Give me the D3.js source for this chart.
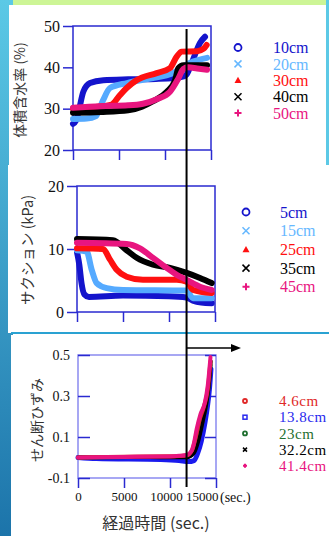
<!DOCTYPE html>
<html>
<head>
<meta charset="utf-8">
<script src="https://cdn.jsdelivr.net/npm/d3@7"></script>
<style>
  body { margin: 0; background: #fff; }
  svg { display: block; }
</style>
</head>
<body>
<svg id="fig" width="329" height="536"></svg>
<script>
// shared time axis (sec.)
const timeTicks = [0, 5000, 10000, 15000];
const failTime = 11800;

// panel 1: volumetric water content (%)
const vwcLabels = ['10cm', '20cm', '30cm', '40cm', '50cm'];
const vwcTicks = [20, 30, 40, 50];
const vwc10 = [[0,26.3],[300,27],[580,29],[1120,34.1],[1850,36.2],[3300,36.9],[6000,37.1],[9000,37.2],[11000,37.4],[12000,37.8],[12360,38.3],[12900,41],[13800,45.9],[14350,47.4]];
const vwc20 = [[0,27.5],[1500,27.6],[2500,28.2],[3260,32],[4020,35],[5870,36.2],[8370,37.3],[10870,38.6],[11960,40.2],[13040,41.4],[14570,42.3]];
const vwc30 = [[0,30],[2500,30.4],[4200,31],[5000,33],[5830,35],[6920,36.9],[9100,38.6],[10540,39.8],[11270,42.6],[11810,43.8],[13500,43.9],[14200,44.5],[14530,45.4]];
const vwc40 = [[0,29],[3000,29.2],[6000,29.6],[7500,30.5],[8700,31.8],[10200,34.1],[11100,36.9],[11450,39.8],[12000,40.5],[14570,40.5]];
const vwc50 = [[0,30.2],[3000,30.6],[6000,30.8],[7600,31.2],[9100,32.3],[10540,34.1],[11450,37.3],[12000,39.6],[12500,40],[13500,39.7],[14570,39.4]];

// panel 2: suction (kPa)
const sucLabels = ['5cm', '15cm', '25cm', '35cm', '45cm'];
const sucTicks = [0, 10, 20];
const suc5 = [[0,9.5],[250,7.5],[500,4.5],[800,2.8],[1300,2.4],[5000,2.6],[10000,2.5],[11900,2.3],[12600,1.8],[13500,1.5],[14640,1.4]];
const suc15 = [[0,9.8],[1050,9.6],[1600,6.7],[2140,4.6],[3230,3.8],[5000,3.5],[11920,3.4],[12610,2.2],[14640,2.2]];
const suc25 = [[0,10.1],[2830,10],[3590,8.3],[4320,6.7],[5400,5.6],[7170,5.1],[10840,5.1],[11920,4.8],[12610,3.5],[14640,3]];
const suc35 = [[0,11.6],[3910,11.4],[5400,9.8],[6490,8.6],[8260,7.5],[10110,7],[11920,6.2],[13370,5.4],[14640,4.6]];
const suc45 = [[0,11],[5400,10.8],[6850,10.1],[8260,8.6],[9750,7],[10840,5.9],[11920,5.1],[13370,4],[14640,3.5]];

// panel 3: shear strain
const strLabels = ['4.6cm', '13.8cm', '23cm', '32.2cm', '41.4cm'];
const strTicks = [-0.1, 0.1, 0.3, 0.5];
const str46 = [[0,0],[5000,0.004],[10000,0.006],[11800,0.01],[12400,0.035],[12800,0.1],[13200,0.18],[13700,0.25],[14100,0.33],[14400,0.47]];
const str138 = [[0,0],[2000,-0.005],[9000,-0.01],[11000,-0.015],[12000,-0.02],[12600,-0.015],[13000,0.02],[13400,0.08],[13800,0.17],[14100,0.26],[14300,0.34],[14450,0.43]];
const str23 = [[0,0],[6000,0.002],[11800,0.002],[12500,0.02],[13000,0.08],[13500,0.17],[13900,0.25],[14200,0.35],[14400,0.45]];
const str322 = [[0,0],[6000,0.001],[11800,0.0],[12600,0.02],[13100,0.08],[13600,0.18],[14000,0.27],[14300,0.38],[14450,0.47]];
const str414 = [[0,0],[5000,0.003],[10000,0.005],[11000,0.008],[11800,0.012],[12300,0.03],[12600,0.07],[12900,0.14],[13300,0.21],[13800,0.27],[14100,0.35],[14400,0.49]];

const svg = d3.select('#fig');
const serif = '"Liberation Serif", "Times New Roman", serif';
const jp = '"Noto Sans CJK JP", sans-serif';

// slide background pieces
const grad = svg.append('defs').append('linearGradient')
  .attr('id', 'side').attr('x1', 0).attr('y1', 0).attr('x2', 0).attr('y2', 1);
grad.append('stop').attr('offset', '0%').attr('stop-color', '#5cc9e6');
grad.append('stop').attr('offset', '100%').attr('stop-color', '#1c74aa');
svg.append('rect').attr('x', 0).attr('y', 0).attr('width', 13).attr('height', 536).attr('fill', 'url(#side)');
svg.append('rect').attr('x', 9).attr('y', 5).attr('width', 317).attr('height', 160).attr('fill', '#fff');
svg.append('rect').attr('x', 8).attr('y', 165).attr('width', 321).attr('height', 168).attr('fill', '#fff');
svg.append('rect').attr('x', 11).attr('y', 335).attr('width', 318).attr('height', 201).attr('fill', '#fff');
svg.append('rect').attr('x', 13).attr('y', 0).attr('width', 316).attr('height', 5).attr('fill', '#cdf596');
svg.append('rect').attr('x', 326).attr('y', 0).attr('width', 3).attr('height', 165).attr('fill', '#5cc9e6');
svg.append('rect').attr('x', 11).attr('y', 332).attr('width', 318).attr('height', 2).attr('fill', '#2aa2d2');

function marker(g, kind, cx, cy, s, color) {
  if (kind === 'circle') {
    g.append('circle').attr('cx', cx).attr('cy', cy).attr('r', s)
      .attr('fill', 'none').attr('stroke', color).attr('stroke-width', 1.8);
  } else if (kind === 'square') {
    g.append('rect').attr('x', cx - s).attr('y', cy - s).attr('width', 2 * s).attr('height', 2 * s)
      .attr('fill', 'none').attr('stroke', color).attr('stroke-width', 1.5);
  } else if (kind === 'triangle') {
    g.append('path').attr('d', `M${cx},${cy - s}L${cx + s},${cy + s * 0.8}L${cx - s},${cy + s * 0.8}Z`)
      .attr('fill', color);
  } else if (kind === 'times') {
    g.append('path').attr('d', `M${cx - s},${cy - s}L${cx + s},${cy + s}M${cx - s},${cy + s}L${cx + s},${cy - s}`)
      .attr('stroke', color).attr('stroke-width', 1.5);
  } else if (kind === 'plus') {
    g.append('path').attr('d', `M${cx - s},${cy}L${cx + s},${cy}M${cx},${cy - s}L${cx},${cy + s}`)
      .attr('stroke', color).attr('stroke-width', 2);
  }
}

function drawPanel(p) {
  const x = d3.scaleLinear().domain([0, 15000]).range([p.left, p.right]);
  const y = d3.scaleLinear().domain(p.yDomain).range([p.bottom, p.top]);
  const g = svg.append('g');

  // frame
  g.append('rect').attr('x', p.left).attr('y', p.top)
    .attr('width', p.right - p.left).attr('height', p.bottom - p.top)
    .attr('fill', 'none').attr('stroke', p.frameColor).attr('stroke-width', 1.5);

  const ya = g.append('g').attr('transform', `translate(${p.left},0)`)
    .call(d3.axisLeft(y).tickValues(p.yTicks).tickSize(p.yTickSize).tickSizeOuter(0)
      .tickPadding(p.yPad).tickFormat(p.yFormat));
  ya.select('.domain').remove();
  ya.selectAll('line').attr('stroke', p.tickColor).attr('stroke-width', 1.5);
  ya.selectAll('text').attr('font-family', serif).attr('font-size', p.tickFont).attr('fill', '#111');

  if (p.rightTicks) {
    const ra = g.append('g').attr('transform', `translate(${p.right},0)`)
      .call(d3.axisRight(y).tickValues(p.yTicks).tickSize(-p.rightTicks).tickFormat(''));
    ra.select('.domain').remove();
    ra.selectAll('line').attr('stroke', p.tickColor).attr('stroke-width', 1.5);
  }

  const xa = g.append('g').attr('transform', `translate(0,${p.bottom})`)
    .call(d3.axisBottom(x).tickValues(timeTicks).tickSize(10).tickSizeOuter(0).tickPadding(4)
      .tickFormat(p.showX ? d3.format('d') : ''));
  xa.select('.domain').remove();
  xa.selectAll('line').attr('stroke', p.tickColor).attr('stroke-width', 1.5);
  xa.selectAll('text').attr('font-family', serif).attr('font-size', 13).attr('fill', '#111');
  if (p.showX) {
    xa.selectAll('.tick').filter(d => d === 15000).select('text').attr('text-anchor', 'end').attr('dx', 2);
    xa.selectAll('.tick').filter(d => d === 10000).select('text').attr('dx', -4);
  }

  // curves
  const line = d3.line().x(d => x(d[0])).y(d => y(d[1])).curve(d3.curveMonotoneX);
  p.series.forEach(s => {
    g.append('path').datum(s.data).attr('d', line)
      .attr('fill', 'none').attr('stroke', s.color).attr('stroke-width', s.width)
      .attr('stroke-linecap', 'round').attr('stroke-linejoin', 'round');
  });

  // legend
  p.legend.forEach((s, i) => {
    const cy = p.legY + i * p.legDy;
    marker(g, s.kind, p.legMx, cy, p.legSize, s.color);
    g.append('text').attr('x', p.legTx).attr('y', cy).attr('dy', '0.35em')
      .attr('font-family', serif).attr('font-size', p.legFont)
      .attr('letter-spacing', p.legSpacing || 0)
      .attr('fill', s.textColor || s.color).text(s.label);
  });

  // rotated y title
  g.append('text').attr('transform', `translate(${p.titleX},${p.titleY}) rotate(-90)`)
    .attr('text-anchor', 'middle').attr('dy', '0.35em')
    .attr('font-family', jp).attr('font-size', p.titleFont).attr('fill', '#333')
    .text(p.title);
  return x;
}

const cBlue = '#1414cc', cLight = '#55aaff', cRed = '#ff1010', cBlack = '#000', cPink = '#e8157f';

drawPanel({
  left: 73, right: 211, top: 26, bottom: 150,
  yDomain: [20, 50], yTicks: vwcTicks, yTickSize: 10, yPad: 3, yFormat: d3.format('d'),
  tickFont: 16, frameColor: '#2a2ad0', tickColor: '#2a2ad0', showX: false,
  series: [
    { data: vwc10, color: cBlue, width: 6 },
    { data: vwc20, color: cLight, width: 6 },
    { data: vwc30, color: cRed, width: 6 },
    { data: vwc40, color: cBlack, width: 6 },
    { data: vwc50, color: cPink, width: 6 }
  ],
  legend: [
    { label: vwcLabels[0], kind: 'circle', color: cBlue },
    { label: vwcLabels[1], kind: 'times', color: '#66b8ff' },
    { label: vwcLabels[2], kind: 'triangle', color: cRed },
    { label: vwcLabels[3], kind: 'times', color: cBlack },
    { label: vwcLabels[4], kind: 'plus', color: cPink }
  ],
  legY: 47.5, legDy: 16.4, legMx: 238, legTx: 273, legSize: 3.5, legFont: 16,
  title: '体積含水率 (%)', titleX: 20, titleY: 90, titleFont: 14
});

drawPanel({
  left: 77, right: 215, top: 186, bottom: 312,
  yDomain: [0, 20], yTicks: sucTicks, yTickSize: 10, yPad: 3, yFormat: d3.format('d'),
  tickFont: 16, frameColor: '#2a2ad0', tickColor: '#2a2ad0', showX: false,
  series: [
    { data: suc5, color: cBlue, width: 6 },
    { data: suc15, color: cLight, width: 6 },
    { data: suc25, color: cRed, width: 6 },
    { data: suc35, color: cBlack, width: 6 },
    { data: suc45, color: cPink, width: 6 }
  ],
  legend: [
    { label: sucLabels[0], kind: 'circle', color: cBlue },
    { label: sucLabels[1], kind: 'times', color: '#66b8ff' },
    { label: sucLabels[2], kind: 'triangle', color: cRed },
    { label: sucLabels[3], kind: 'times', color: cBlack },
    { label: sucLabels[4], kind: 'plus', color: cPink }
  ],
  legY: 212, legDy: 18.7, legMx: 246, legTx: 280, legSize: 3.5, legFont: 16,
  title: 'サクション (kPa)', titleX: 28, titleY: 250, titleFont: 14.5
});

const x3 = drawPanel({
  left: 78, right: 216, top: 355, bottom: 478,
  yDomain: [-0.1, 0.5], yTicks: strTicks, yTickSize: -12, yPad: 8, yFormat: d => d.toFixed(1),
  tickFont: 14, frameColor: '#8a8af0', tickColor: '#2a2ad0', showX: true, rightTicks: 11,
  series: [
    { data: str138, color: '#1a1aee', width: 5 },
    { data: str23, color: '#1f6f2f', width: 4 },
    { data: str322, color: cBlack, width: 3.5 },
    { data: str46, color: '#e02828', width: 4 },
    { data: str414, color: cPink, width: 4 }
  ],
  legend: [
    { label: strLabels[0], kind: 'circle', color: '#e02828' },
    { label: strLabels[1], kind: 'square', color: '#2a2aee' },
    { label: strLabels[2], kind: 'circle', color: '#1f6f2f' },
    { label: strLabels[3], kind: 'times', color: cBlack },
    { label: strLabels[4], kind: 'plus', color: cPink }
  ],
  legY: 401, legDy: 16.2, legMx: 245, legTx: 279, legSize: 2, legFont: 15, legSpacing: 0.5,
  title: 'せん断ひずみ', titleX: 37, titleY: 420, titleFont: 14
});

// unit next to the last time tick and the x title
svg.append('text').attr('x', 220).attr('y', 497).attr('dy', '0.35em')
  .attr('font-family', serif).attr('font-size', 14).attr('fill', '#111').text('(sec.)');
svg.append('text').attr('x', 156).attr('y', 523).attr('dy', '0.35em').attr('text-anchor', 'middle')
  .attr('font-family', jp).attr('font-size', 16).attr('fill', '#333').text('経過時間 (sec.)');

// failure time marker and arrow
const fx = x3(failTime);
svg.append('line').attr('x1', fx).attr('x2', fx).attr('y1', 29).attr('y2', 487)
  .attr('stroke', '#000').attr('stroke-width', 2);
svg.append('line').attr('x1', fx).attr('x2', 233).attr('y1', 348).attr('y2', 348)
  .attr('stroke', '#000').attr('stroke-width', 1.5);
svg.append('path').attr('d', 'M231,344L241,348L231,352Z').attr('fill', '#000');
</script>
</body>
</html>
